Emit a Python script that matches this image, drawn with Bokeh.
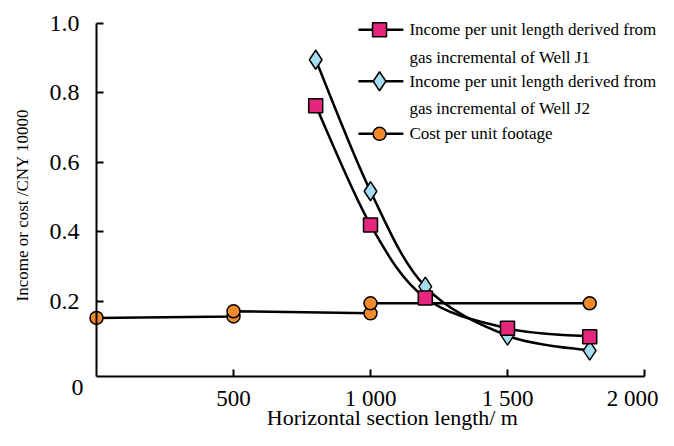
import math
from bokeh.plotting import figure
from bokeh.models import Range1d, Label, ColumnDataSource, FixedTicker
from bokeh.embed import file_html
from bokeh.resources import INLINE

# ---- data ----
x_j = [800, 1000, 1200, 1500, 1800]
j1 = [0.763, 0.420, 0.210, 0.123, 0.099]
j2 = [0.895, 0.517, 0.243, 0.102, 0.059]

x_cost = [0, 500, 500, 1000, 1000, 1800]
cost = [0.153, 0.157, 0.172, 0.166, 0.195, 0.195]

x_ticks = [500, 1000, 1500, 2000]
x_tick_labels = ["500", "1 000", "1 500", "2 000"]
y_ticks = [0.2, 0.4, 0.6, 0.8, 1.0]
y_tick_labels = ["0.2", "0.4", "0.6", "0.8", "1.0"]

legend_labels = [
    ["Income per unit length derived from", "gas incremental of Well J1"],
    ["Income per unit length derived from", "gas incremental of Well J2"],
    ["Cost per unit footage"],
]

PINK = "#E5267C"
BLUE = "#A5DCF0"
ORANGE = "#F18A2B"
FONT = "Liberation Serif"

Y0 = -0.0155  # where the x axis sits
p = figure(width=658, height=430, output_backend="svg", toolbar_location=None,
           x_range=Range1d(-350.4, 2051.1), y_range=Range1d(-0.1707, 1.0652),
           min_border=0)
p.outline_line_color = None
p.xgrid.visible = False
p.ygrid.visible = False
p.background_fill_color = "white"
p.border_fill_color = "white"

for ax in (p.xaxis[0], p.yaxis[0]):
    ax.axis_line_width = 2
    ax.axis_line_color = "black"
    ax.major_tick_line_width = 2
    ax.major_tick_in = 7
    ax.major_tick_out = 0
    ax.minor_tick_line_color = None
    ax.major_label_text_font = FONT
    ax.major_label_text_font_size = "24px"
    ax.major_label_text_color = "black"

p.xaxis[0].ticker = FixedTicker(ticks=x_ticks)
p.xaxis[0].major_label_overrides = dict(zip(x_ticks, x_tick_labels))
p.xaxis[0].major_label_standoff = 9
p.xaxis[0].major_label_text_font_size = "23px"
p.xaxis[0].bounds = (0, 2000)
p.xaxis[0].fixed_location = Y0
p.yaxis[0].ticker = FixedTicker(ticks=y_ticks)
p.yaxis[0].major_label_overrides = dict(zip(y_ticks, y_tick_labels))
p.yaxis[0].major_label_standoff = 17
p.yaxis[0].bounds = (Y0, 1.0)
p.yaxis[0].fixed_location = 0


def smooth(xs, ys):
    n = len(xs)
    d = dict(x0=[], y0=[], x1=[], y1=[], cx0=[], cy0=[], cx1=[], cy1=[])
    for i in range(n - 1):
        pi = (xs[i], ys[i])
        pn = (xs[i + 1], ys[i + 1])
        pp = (xs[i - 1], ys[i - 1]) if i > 0 else pi
        pnn = (xs[i + 2], ys[i + 2]) if i + 2 < n else pn
        d["x0"].append(pi[0]); d["y0"].append(pi[1])
        d["x1"].append(pn[0]); d["y1"].append(pn[1])
        d["cx0"].append(pi[0] + (pn[0] - pp[0]) / 6)
        d["cy0"].append(pi[1] + (pn[1] - pp[1]) / 6)
        d["cx1"].append(pn[0] - (pnn[0] - pi[0]) / 6)
        d["cy1"].append(pn[1] - (pnn[1] - pi[1]) / 6)
    return ColumnDataSource(d)


# cost line
p.line(x_cost, cost, line_color="black", line_width=2.5)
# smooth curves
for ys in (j1, j2):
    p.bezier(x0="x0", y0="y0", x1="x1", y1="y1", cx0="cx0", cy0="cy0", cx1="cx1", cy1="cy1",
             source=smooth(x_j, ys), line_color="black", line_width=2.5)

p.scatter(x_cost, cost, marker="circle", size=13, fill_color=ORANGE, line_color="black", line_width=1.5)
p.scatter(x_j, j2, marker="diamond", size=19, fill_color=BLUE, line_color="black", line_width=1.5)
p.scatter(x_j, j1, marker="square", size=14, fill_color=PINK, line_color="black", line_width=1.5)

# ---- legend (manual) ----
leg_x0, leg_x1, leg_mx, leg_tx = 956, 1120, 1033, 1142
row_y = [0.981, 0.902, 0.833, 0.755, 0.682]
marks = [("square", 14, PINK), ("diamond", 19, BLUE), ("circle", 13, ORANGE)]
r = 0
for (mk, sz, col), lines in zip(marks, legend_labels):
    yy = row_y[r]
    p.line([leg_x0, leg_x1], [yy, yy], line_color="black", line_width=2.5)
    p.scatter([leg_mx], [yy], marker=mk, size=sz, fill_color=col, line_color="black", line_width=1.5)
    for t in lines:
        p.add_layout(Label(x=leg_tx, y=row_y[r], text=t, text_font=FONT, text_font_size="17px",
                           text_baseline="middle", text_align="left", text_color="black"))
        r += 1

# origin "0", axis titles
p.add_layout(Label(x=-69, y=-0.047, text="0", text_font=FONT, text_font_size="24px",
                   text_align="center", text_baseline="middle", text_color="black"))
p.add_layout(Label(x=1080, y=-0.1334, text="Horizontal section length/ m", text_font=FONT,
                   text_font_size="22px", text_align="center", text_baseline="middle",
                   text_color="black"))
p.add_layout(Label(x=-271, y=0.483, text="Income or cost  /CNY 10000", text_font=FONT,
                   text_font_size="17px", text_align="center", text_baseline="middle",
                   angle=math.pi / 2, text_color="black"))

open("out.html", "w").write(file_html(p, INLINE))
